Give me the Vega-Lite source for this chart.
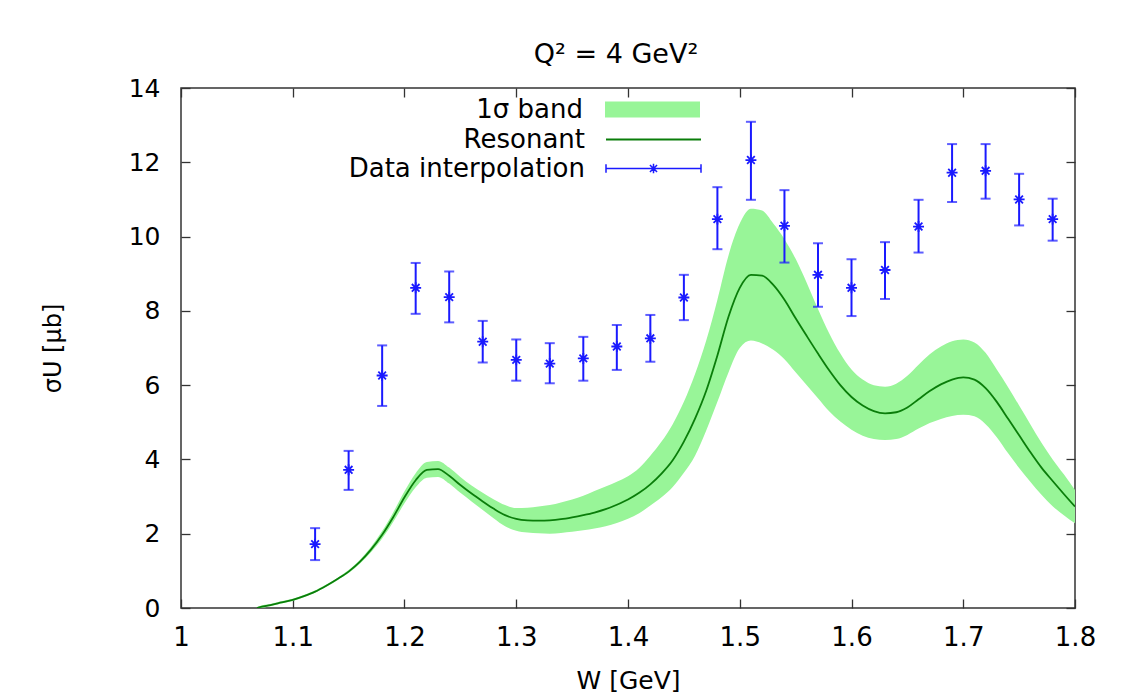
{
  "$schema": "https://vega.github.io/schema/vega-lite/v6.json",
  "width": 894,
  "height": 520,
  "autosize": "none",
  "padding": {"left": 181, "top": 88, "right": 47, "bottom": 86},
  "background": "white",
  "config": {
    "font": "DejaVu Sans",
    "view": {"stroke": "#333333", "strokeWidth": 1.5},
    "legend": {"orient": "none", "padding": 0, "labelFont": "DejaVu Sans", "labelFontSize": 26, "labelColor": "#000000", "labelAlign": "right", "labelBaseline": "middle", "labelOffset": -117, "labelLimit": 0}
  },
  "title": {"text": "Q² = 4 GeV²", "font": "DejaVu Sans", "fontSize": 27, "fontWeight": "normal", "color": "#000000", "anchor": "middle", "baseline": "alphabetic", "offset": -28, "dx": -12},
  "datasets": {
    "curve": [
      {"W": 1.068, "mid": 0.0, "lo": 0.0, "hi": 0.02},
      {"W": 1.07, "mid": 0.02, "lo": 0.0, "hi": 0.05},
      {"W": 1.08, "mid": 0.08, "lo": 0.05, "hi": 0.11},
      {"W": 1.09, "mid": 0.15, "lo": 0.12, "hi": 0.18},
      {"W": 1.10, "mid": 0.22, "lo": 0.19, "hi": 0.25},
      {"W": 1.11, "mid": 0.32, "lo": 0.29, "hi": 0.35},
      {"W": 1.12, "mid": 0.44, "lo": 0.41, "hi": 0.47},
      {"W": 1.13, "mid": 0.6, "lo": 0.57, "hi": 0.63},
      {"W": 1.14, "mid": 0.78, "lo": 0.75, "hi": 0.81},
      {"W": 1.15, "mid": 0.98, "lo": 0.94, "hi": 1.02},
      {"W": 1.16, "mid": 1.24, "lo": 1.19, "hi": 1.29},
      {"W": 1.17, "mid": 1.57, "lo": 1.5, "hi": 1.64},
      {"W": 1.18, "mid": 1.97, "lo": 1.87, "hi": 2.07},
      {"W": 1.19, "mid": 2.45, "lo": 2.32, "hi": 2.58},
      {"W": 1.20, "mid": 2.98, "lo": 2.82, "hi": 3.14},
      {"W": 1.21, "mid": 3.44, "lo": 3.25, "hi": 3.63},
      {"W": 1.22, "mid": 3.72, "lo": 3.51, "hi": 3.93},
      {"W": 1.23, "mid": 3.74, "lo": 3.53, "hi": 3.96},
      {"W": 1.24, "mid": 3.56, "lo": 3.35, "hi": 3.78},
      {"W": 1.25, "mid": 3.31, "lo": 3.1, "hi": 3.53},
      {"W": 1.26, "mid": 3.08, "lo": 2.87, "hi": 3.3},
      {"W": 1.27, "mid": 2.87, "lo": 2.64, "hi": 3.1},
      {"W": 1.28, "mid": 2.67, "lo": 2.41, "hi": 2.92},
      {"W": 1.29, "mid": 2.5, "lo": 2.2, "hi": 2.77},
      {"W": 1.30, "mid": 2.4, "lo": 2.08, "hi": 2.69},
      {"W": 1.31, "mid": 2.36, "lo": 2.03, "hi": 2.7},
      {"W": 1.32, "mid": 2.35, "lo": 2.01, "hi": 2.73},
      {"W": 1.33, "mid": 2.36, "lo": 2.0, "hi": 2.77},
      {"W": 1.34, "mid": 2.39, "lo": 2.02, "hi": 2.84},
      {"W": 1.35, "mid": 2.44, "lo": 2.05, "hi": 2.92},
      {"W": 1.36, "mid": 2.5, "lo": 2.09, "hi": 3.02},
      {"W": 1.37, "mid": 2.57, "lo": 2.14, "hi": 3.15},
      {"W": 1.38, "mid": 2.66, "lo": 2.2, "hi": 3.27},
      {"W": 1.39, "mid": 2.78, "lo": 2.29, "hi": 3.4},
      {"W": 1.40, "mid": 2.92, "lo": 2.4, "hi": 3.55},
      {"W": 1.41, "mid": 3.1, "lo": 2.55, "hi": 3.77},
      {"W": 1.42, "mid": 3.33, "lo": 2.76, "hi": 4.1},
      {"W": 1.43, "mid": 3.62, "lo": 2.98, "hi": 4.48},
      {"W": 1.44, "mid": 3.98, "lo": 3.26, "hi": 4.95},
      {"W": 1.45, "mid": 4.48, "lo": 3.64, "hi": 5.55},
      {"W": 1.46, "mid": 5.1, "lo": 4.1, "hi": 6.3},
      {"W": 1.47, "mid": 5.85, "lo": 4.78, "hi": 7.2},
      {"W": 1.48, "mid": 6.8, "lo": 5.55, "hi": 8.3},
      {"W": 1.49, "mid": 7.85, "lo": 6.35, "hi": 9.5},
      {"W": 1.50, "mid": 8.62, "lo": 7.0, "hi": 10.35},
      {"W": 1.51, "mid": 8.97, "lo": 7.2, "hi": 10.75},
      {"W": 1.52, "mid": 8.95, "lo": 7.12, "hi": 10.7},
      {"W": 1.53, "mid": 8.7, "lo": 6.95, "hi": 10.35},
      {"W": 1.54, "mid": 8.3, "lo": 6.7, "hi": 9.93},
      {"W": 1.55, "mid": 7.8, "lo": 6.35, "hi": 9.4},
      {"W": 1.56, "mid": 7.32, "lo": 6.0, "hi": 8.75},
      {"W": 1.57, "mid": 6.85, "lo": 5.65, "hi": 8.05},
      {"W": 1.58, "mid": 6.4, "lo": 5.3, "hi": 7.4},
      {"W": 1.59, "mid": 6.0, "lo": 5.02, "hi": 6.85},
      {"W": 1.60, "mid": 5.68, "lo": 4.8, "hi": 6.42},
      {"W": 1.61, "mid": 5.45, "lo": 4.64, "hi": 6.15},
      {"W": 1.62, "mid": 5.3, "lo": 4.55, "hi": 6.0},
      {"W": 1.63, "mid": 5.24, "lo": 4.52, "hi": 5.96},
      {"W": 1.64, "mid": 5.27, "lo": 4.55, "hi": 6.04},
      {"W": 1.65, "mid": 5.4, "lo": 4.66, "hi": 6.25},
      {"W": 1.66, "mid": 5.62, "lo": 4.83, "hi": 6.55},
      {"W": 1.67, "mid": 5.84, "lo": 4.98, "hi": 6.83},
      {"W": 1.68, "mid": 6.02, "lo": 5.09, "hi": 7.04},
      {"W": 1.69, "mid": 6.15, "lo": 5.17, "hi": 7.18},
      {"W": 1.70, "mid": 6.21, "lo": 5.2, "hi": 7.23},
      {"W": 1.71, "mid": 6.15, "lo": 5.16, "hi": 7.15},
      {"W": 1.72, "mid": 5.92, "lo": 4.95, "hi": 6.87},
      {"W": 1.73, "mid": 5.55, "lo": 4.6, "hi": 6.42},
      {"W": 1.74, "mid": 5.1, "lo": 4.17, "hi": 5.95},
      {"W": 1.75, "mid": 4.65, "lo": 3.77, "hi": 5.45},
      {"W": 1.76, "mid": 4.2, "lo": 3.4, "hi": 4.95},
      {"W": 1.77, "mid": 3.78, "lo": 3.05, "hi": 4.45},
      {"W": 1.78, "mid": 3.42, "lo": 2.74, "hi": 4.0},
      {"W": 1.79, "mid": 3.07, "lo": 2.5, "hi": 3.6},
      {"W": 1.80, "mid": 2.73, "lo": 2.28, "hi": 3.18}
    ],
    "points": [
      {"W": 1.12, "val": 1.72, "lo": 1.29, "hi": 2.15},
      {"W": 1.15, "val": 3.72, "lo": 3.18, "hi": 4.23},
      {"W": 1.18, "val": 6.26, "lo": 5.44, "hi": 7.07},
      {"W": 1.21, "val": 8.62, "lo": 7.92, "hi": 9.29},
      {"W": 1.24, "val": 8.37, "lo": 7.69, "hi": 9.06},
      {"W": 1.27, "val": 7.17, "lo": 6.61, "hi": 7.73},
      {"W": 1.30, "val": 6.68, "lo": 6.12, "hi": 7.23},
      {"W": 1.33, "val": 6.58, "lo": 6.05, "hi": 7.13},
      {"W": 1.36, "val": 6.72, "lo": 6.12, "hi": 7.30},
      {"W": 1.39, "val": 7.04, "lo": 6.41, "hi": 7.62},
      {"W": 1.42, "val": 7.26, "lo": 6.63, "hi": 7.89},
      {"W": 1.45, "val": 8.36, "lo": 7.75, "hi": 8.97},
      {"W": 1.48, "val": 10.47, "lo": 9.66, "hi": 11.33},
      {"W": 1.51, "val": 12.06, "lo": 10.99, "hi": 13.09},
      {"W": 1.54, "val": 10.29, "lo": 9.30, "hi": 11.25},
      {"W": 1.57, "val": 8.97, "lo": 8.11, "hi": 9.82},
      {"W": 1.60, "val": 8.62, "lo": 7.86, "hi": 9.39},
      {"W": 1.63, "val": 9.10, "lo": 8.32, "hi": 9.85},
      {"W": 1.66, "val": 10.27, "lo": 9.57, "hi": 10.99},
      {"W": 1.69, "val": 11.72, "lo": 10.93, "hi": 12.49},
      {"W": 1.72, "val": 11.77, "lo": 11.02, "hi": 12.49},
      {"W": 1.75, "val": 11.00, "lo": 10.30, "hi": 11.69},
      {"W": 1.78, "val": 10.47, "lo": 9.89, "hi": 11.02}
    ]
  },
  "resolve": {"axis": {"x": "independent", "y": "independent"}},
  "layer": [
    {
      "data": {"name": "curve"},
      "mark": {"type": "area", "clip": true, "interpolate": "monotone"},
      "encoding": {
        "x": {"field": "W", "type": "quantitative", "scale": {"domain": [1, 1.8], "nice": false, "zero": false},
          "axis": {"orient": "bottom", "values": [1, 1.1, 1.2, 1.3, 1.4, 1.5, 1.6, 1.7, 1.8], "format": "~g", "grid": false, "domain": false, "tickSize": -9, "tickColor": "#333333", "tickWidth": 1.3, "labelFont": "DejaVu Sans", "labelFontSize": 26, "labelColor": "#000000", "labelPadding": 25, "labelFlush": false, "title": "W [GeV]", "titleFont": "DejaVu Sans", "titleFontSize": 25, "titleFontWeight": "normal", "titleColor": "#000000", "titlePadding": 18}},
        "y": {"field": "lo", "type": "quantitative", "scale": {"domain": [0, 14], "nice": false},
          "axis": {"orient": "left", "values": [0, 2, 4, 6, 8, 10, 12, 14], "grid": false, "domain": false, "tickSize": -9, "tickColor": "#333333", "tickWidth": 1.3, "labelFont": "DejaVu Sans", "labelFontSize": 25, "labelColor": "#000000", "labelPadding": 30, "labelFlush": false, "title": "σU [μb]", "titleFont": "DejaVu Sans", "titleFontSize": 24, "titleFontWeight": "normal", "titleColor": "#000000", "titlePadding": 63}},
        "y2": {"field": "hi"},
        "fill": {"datum": "1σ band", "type": "nominal", "scale": {"range": ["#98f598"]},
          "legend": {"title": null, "legendX": 424, "legendY": -26, "symbolType": "M-1,-0.168H1V0.168H-1Z", "symbolSize": 9025, "symbolStrokeWidth": 0, "symbolOpacity": 1}}
      }
    },
    {
      "data": {"name": "curve"},
      "mark": {"type": "line", "clip": true, "strokeWidth": 1.8, "interpolate": "monotone"},
      "encoding": {
        "x": {"field": "W", "type": "quantitative", "axis": {"orient": "top", "values": [1, 1.1, 1.2, 1.3, 1.4, 1.5, 1.6, 1.7, 1.8], "labels": false, "title": null, "grid": false, "domain": false, "tickSize": -9, "tickColor": "#333333", "tickWidth": 1.3}},
        "y": {"field": "mid", "type": "quantitative", "axis": {"orient": "right", "values": [0, 2, 4, 6, 8, 10, 12, 14], "labels": false, "title": null, "grid": false, "domain": false, "tickSize": -9, "tickColor": "#333333", "tickWidth": 1.3}},
        "stroke": {"datum": "Resonant", "type": "nominal", "scale": {"range": ["#0a7d0a"]},
          "legend": {"title": null, "legendX": 424, "legendY": 3, "symbolType": "M-1,0H1", "symbolSize": 9025, "symbolStrokeWidth": 1.8}}
      }
    },
    {
      "data": {"name": "points"},
      "mark": {"type": "rule", "color": "#1a1aff", "strokeWidth": 2},
      "encoding": {
        "x": {"field": "W", "type": "quantitative", "axis": null},
        "y": {"field": "lo", "type": "quantitative", "axis": null},
        "y2": {"field": "hi"}
      }
    },
    {
      "data": {"name": "points"},
      "mark": {"type": "tick", "orient": "horizontal", "color": "#1a1aff", "size": 10, "thickness": 2},
      "encoding": {
        "x": {"field": "W", "type": "quantitative", "axis": null},
        "y": {"field": "lo", "type": "quantitative", "axis": null}
      }
    },
    {
      "data": {"name": "points"},
      "mark": {"type": "tick", "orient": "horizontal", "color": "#1a1aff", "size": 10, "thickness": 2},
      "encoding": {
        "x": {"field": "W", "type": "quantitative", "axis": null},
        "y": {"field": "hi", "type": "quantitative", "axis": null}
      }
    },
    {
      "data": {"name": "points"},
      "mark": {"type": "point", "filled": false, "shape": "M-1,0H1M0,-1V1M-0.7,-0.7L0.7,0.7M-0.7,0.7L0.7,-0.7", "size": 120, "strokeWidth": 1.8, "opacity": 1},
      "encoding": {
        "x": {"field": "W", "type": "quantitative", "axis": null},
        "y": {"field": "val", "type": "quantitative", "axis": null},
        "color": {"datum": "Data interpolation", "type": "nominal", "scale": {"range": ["#1a1aff"]},
          "legend": {"title": null, "legendX": 424, "legendY": 32, "symbolType": "M-1,0H1M-1,-0.09V0.09M1,-0.09V0.09M0,-0.1V0.1M-0.075,-0.075L0.075,0.075M-0.075,0.075L0.075,-0.075", "symbolSize": 9025, "symbolStrokeWidth": 1.5}}
      }
    }
  ]
}
